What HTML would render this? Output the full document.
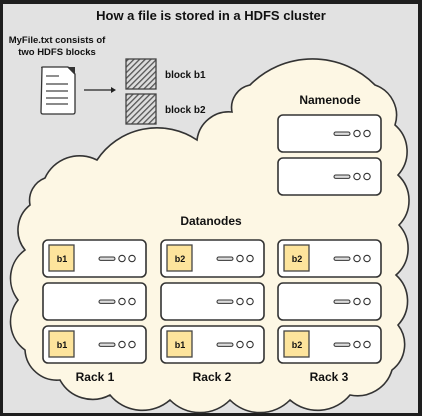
<!DOCTYPE html>
<html><head><style>
body{margin:0;background:#1e1e1e;}
svg{display:block;font-family:"Liberation Sans",sans-serif;font-weight:bold;}
</style></head><body>
<svg width="422" height="416" viewBox="0 0 422 416" xmlns="http://www.w3.org/2000/svg">
<defs>
<pattern id="h" width="4" height="4" patternUnits="userSpaceOnUse" patternTransform="rotate(45)">
<rect width="4" height="4" fill="#ddd"/><rect width="1.3" height="4" fill="#555"/>
</pattern>
<g id="srv">
<rect x="0" y="0" width="103" height="37" rx="5" fill="#fff" stroke="#333" stroke-width="1.6"/>
<rect x="56" y="17" width="16" height="3.4" rx="1.7" fill="#ddd" stroke="#333" stroke-width="1"/>
<circle cx="79" cy="18.5" r="3.2" fill="#fff" stroke="#333" stroke-width="1.1"/>
<circle cx="89" cy="18.5" r="3.2" fill="#fff" stroke="#333" stroke-width="1.1"/>
</g>
</defs>
<rect x="3" y="4" width="415" height="409" fill="#e2e2e2"/>
<text x="211" y="20" text-anchor="middle" font-size="13" fill="#111">How a file is stored in a HDFS cluster</text>
<text x="57" y="43" text-anchor="middle" font-size="9.5" fill="#111">MyFile.txt consists of</text>
<text x="57" y="55" text-anchor="middle" font-size="9.5" fill="#111">two HDFS blocks</text>
<path d="M42 68 Q41 67 43 67 L68 67 L75 74 L75 112 Q75 114 73 114 L43 114 Q41 114 41 112 Z" fill="#fff" stroke="#333" stroke-width="1.3"/>
<path d="M67 67 L75 67 L75 75 Z" fill="#333"/>
<g stroke="#444" stroke-width="1.2"><line x1="46" y1="76" x2="59" y2="76"/><line x1="46" y1="84" x2="68" y2="84"/><line x1="46" y1="91" x2="68" y2="91"/><line x1="46" y1="98" x2="68" y2="98"/><line x1="46" y1="104" x2="68" y2="104"/></g>
<line x1="84" y1="90" x2="112" y2="90" stroke="#222" stroke-width="1.3"/>
<path d="M111 87 L116 90 L111 93 Z" fill="#222"/>
<rect x="126" y="59" width="30" height="30" fill="url(#h)" stroke="#444" stroke-width="1.3"/>
<rect x="126" y="94" width="30" height="30" fill="url(#h)" stroke="#444" stroke-width="1.3"/>
<text x="165" y="78" font-size="10" fill="#111">block b1</text>
<text x="165" y="113" font-size="10" fill="#111">block b2</text>
<path d="M25 250 A32 32 0 0 1 30 205 A24 24 0 0 1 45 178 A38 38 0 0 1 97 160 A72 72 0 0 1 197 140 A32 32 0 0 1 232 112 A23 23 0 0 1 250 85 A88 88 0 0 1 375 85 A32 32 0 0 1 395 125 A35 35 0 0 1 398 175 A35 35 0 0 1 399 225 A35 35 0 0 1 396 275 A35 35 0 0 1 398 325 A32 32 0 0 1 392 370 A36 36 0 0 1 350 395 A42 42 0 0 1 290 400 A42 42 0 0 1 230 400 A42 42 0 0 1 170 400 A42 42 0 0 1 110 395 A37 37 0 0 1 60 380 A32 32 0 0 1 25 350 A35 35 0 0 1 18 300 A35 35 0 0 1 25 250 Z" fill="#fdf7e4" stroke="#333" stroke-width="1.6"/>
<text x="330" y="104" text-anchor="middle" font-size="12" fill="#111">Namenode</text>
<use href="#srv" x="278" y="115"/><use href="#srv" x="278" y="158"/>
<text x="211" y="225" text-anchor="middle" font-size="12" fill="#111">Datanodes</text>
<g>
<use href="#srv" x="43" y="240"/><use href="#srv" x="43" y="283"/><use href="#srv" x="43" y="326"/>
<use href="#srv" x="161" y="240"/><use href="#srv" x="161" y="283"/><use href="#srv" x="161" y="326"/>
<use href="#srv" x="278" y="240"/><use href="#srv" x="278" y="283"/><use href="#srv" x="278" y="326"/>
</g>
<g fill="#fde49c" stroke="#444" stroke-width="1.3">
<rect x="49" y="245" width="25" height="26"/><rect x="167" y="245" width="25" height="26"/><rect x="284" y="245" width="25" height="26"/>
<rect x="49" y="331" width="25" height="26"/><rect x="167" y="331" width="25" height="26"/><rect x="284" y="331" width="25" height="26"/>
</g>
<g font-size="9" fill="#111" text-anchor="middle">
<text x="62" y="262">b1</text><text x="180" y="262">b2</text><text x="297" y="262">b2</text>
<text x="62" y="348">b1</text><text x="180" y="348">b1</text><text x="297" y="348">b2</text>
</g>
<g font-size="12" fill="#111" text-anchor="middle">
<text x="95" y="381">Rack 1</text><text x="212" y="381">Rack 2</text><text x="329" y="381">Rack 3</text>
</g>
</svg>
</body></html>
